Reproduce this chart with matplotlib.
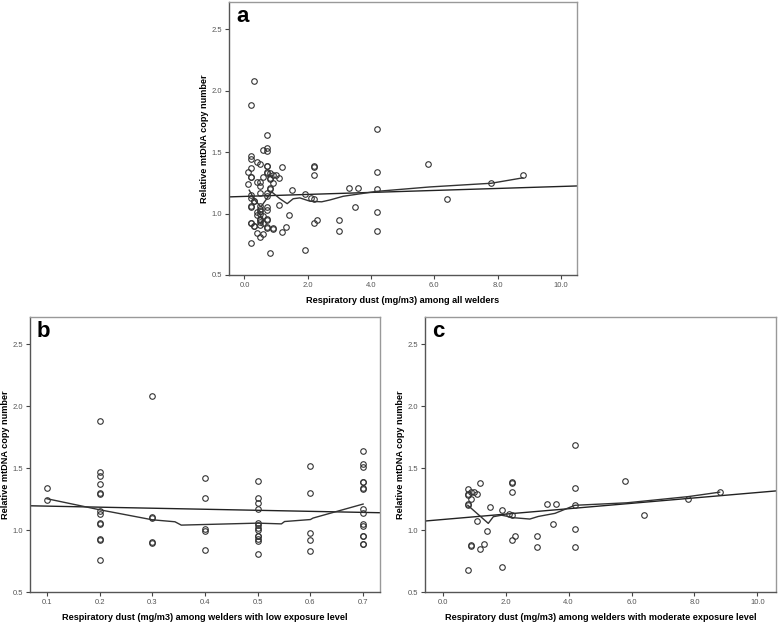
import numpy as np
import matplotlib.pyplot as plt

plt.rcParams['font.family'] = ['Liberation Sans', 'DejaVu Sans']

# low exposure welders (panel b)
low_x = [0.1, 0.1,
         0.2, 0.2, 0.2, 0.2, 0.2, 0.2, 0.2, 0.2, 0.2, 0.2, 0.2, 0.2, 0.2,
         0.3, 0.3, 0.3, 0.3, 0.3,
         0.4, 0.4, 0.4, 0.4, 0.4,
         0.5, 0.5, 0.5, 0.5, 0.5, 0.5, 0.5, 0.5, 0.5, 0.5, 0.5, 0.5, 0.5,
         0.6, 0.6, 0.6, 0.6, 0.6,
         0.7, 0.7, 0.7, 0.7, 0.7, 0.7, 0.7, 0.7, 0.7, 0.7, 0.7, 0.7, 0.7, 0.7, 0.7]
low_y = [1.34, 1.24,
         1.88, 1.47, 1.44, 1.37, 1.30, 1.295, 1.15, 1.13, 1.06, 1.05, 0.925, 0.92, 0.76,
         2.08, 1.10, 1.105, 0.90, 0.895,
         1.42, 1.26, 1.01, 0.99, 0.84,
         1.40, 1.26, 1.22, 1.17, 1.06, 1.04, 1.02, 1.00, 0.955, 0.95, 0.93, 0.91, 0.81,
         1.52, 1.30, 0.98, 0.92, 0.83,
         1.64, 1.53, 1.51, 1.39, 1.385, 1.34, 1.33, 1.17, 1.14, 1.05, 1.03, 0.955, 0.95, 0.89, 0.885]

# moderate exposure welders (panel c)
mod_x = [0.8, 0.8, 0.8, 0.8, 0.8, 0.8,
         0.9, 0.9, 0.9, 0.9,
         1.0, 1.1, 1.1, 1.2, 1.2, 1.3, 1.4, 1.5, 1.9, 1.9, 2.1,
         2.2, 2.2, 2.2, 2.2, 2.2, 2.3, 3.0, 3.0, 3.3, 3.5, 3.6,
         4.2, 4.2, 4.2, 4.2, 4.2, 5.8, 6.4, 7.8, 8.8]
mod_y = [1.33, 1.29, 1.28, 1.21, 1.20, 0.68,
         1.31, 1.25, 0.88, 0.87,
         1.31, 1.29, 1.07, 1.38, 0.85, 0.89, 0.99, 1.19, 1.16, 0.70, 1.13,
         1.39, 1.38, 1.31, 1.12, 0.92, 0.95, 0.95, 0.86, 1.21, 1.05, 1.21,
         1.69, 1.34, 1.20, 1.01, 0.86, 1.40, 1.12, 1.25, 1.31]

all_x = low_x + mod_x
all_y = low_y + mod_y

# fit lines and loess curves
fit_a_x = [-0.49, 10.51]
fit_a_y = [1.135, 1.224]
loess_a_x = [0.15, 0.33, 0.52, 0.86, 1.12, 1.35, 1.54, 1.75, 2.07, 2.44, 2.70, 3.12, 4.18, 5.86, 7.8, 8.8]
loess_a_y = [1.19, 1.108, 1.054, 1.176, 1.12, 1.08, 1.12, 1.127, 1.10, 1.095, 1.11, 1.14, 1.18, 1.216, 1.246, 1.29]

fit_b_x = [0.068, 0.732]
fit_b_y = [1.196, 1.14]
loess_b_x = [0.1, 0.2, 0.3, 0.343, 0.355, 0.4, 0.5, 0.545, 0.551, 0.6, 0.605, 0.7]
loess_b_y = [1.253, 1.164, 1.083, 1.067, 1.04, 1.045, 1.056, 1.05, 1.069, 1.085, 1.097, 1.21]

fit_c_x = [-0.56, 10.59]
fit_c_y = [1.073, 1.316]
loess_c_x = [0.8, 1.45, 1.61, 1.87, 2.08, 2.24, 2.77, 3.04, 3.57, 4.2, 5.85, 7.8, 8.8]
loess_c_y = [1.20, 1.054, 1.108, 1.12, 1.11, 1.10, 1.089, 1.11, 1.135, 1.20, 1.22, 1.27, 1.306]

ylab = 'Relative mtDNA copy number'


def panel(ax, x, y, fx, fy, lx, ly, letter, xlabel, xlim, xticks, xfmt):
    ax.plot(x, y, 'o', ms=4, mfc='none', mec='#333333', mew=0.8, zorder=3)
    ax.plot(fx, fy, color='#222222', lw=1.0)
    ax.plot(lx, ly, color='#333333', lw=1.0)
    ax.set_xlim(*xlim)
    ax.set_ylim(0.5, 2.72)
    ax.set_xticks(xticks)
    ax.set_xticklabels([xfmt % t for t in xticks])
    ax.set_yticks([0.5, 1.0, 1.5, 2.0, 2.5])
    ax.set_yticklabels(['0.5', '1.0', '1.5', '2.0', '2.5'])
    ax.tick_params(direction='out', length=3, width=0.8, color='#444444',
                   labelsize=5.5, labelcolor='#555555', pad=2)
    for s in ['left', 'bottom']:
        ax.spines[s].set_color('#555555')
        ax.spines[s].set_linewidth(1.0)
    for s in ['top', 'right']:
        ax.spines[s].set_color('#999999')
        ax.spines[s].set_linewidth(1.0)
    ax.set_xlabel(xlabel, fontsize=6.6, fontweight='bold', labelpad=5)
    ax.set_ylabel(ylab, fontsize=6.6, fontweight='bold')
    ax.yaxis.set_label_coords(-0.058, 0.5)
    ax.text(0.02, 0.985, letter, transform=ax.transAxes, fontsize=16,
            fontweight='bold', va='top', ha='left')


fig = plt.figure(figsize=(7.78, 6.22), dpi=100)

ax_a = fig.add_axes([0.2943, 0.5579, 0.4473, 0.4389])
panel(ax_a, all_x, all_y, fit_a_x, fit_a_y, loess_a_x, loess_a_y, 'a',
      'Respiratory dust (mg/m3) among all welders', (-0.49, 10.51),
      [0, 2, 4, 6, 8, 10], '%.1f')

ax_b = fig.add_axes([0.0386, 0.0482, 0.4498, 0.4422])
panel(ax_b, low_x, low_y, fit_b_x, fit_b_y, loess_b_x, loess_b_y, 'b',
      'Respiratory dust (mg/m3) among welders with low exposure level', (0.068, 0.732),
      [0.1, 0.2, 0.3, 0.4, 0.5, 0.6, 0.7], '%.1f')

ax_c = fig.add_axes([0.5463, 0.0482, 0.4511, 0.4422])
panel(ax_c, mod_x, mod_y, fit_c_x, fit_c_y, loess_c_x, loess_c_y, 'c',
      'Respiratory dust (mg/m3) among welders with moderate exposure level', (-0.56, 10.59),
      [0, 2, 4, 6, 8, 10], '%.1f')

fig.savefig('out.png', dpi=100)
